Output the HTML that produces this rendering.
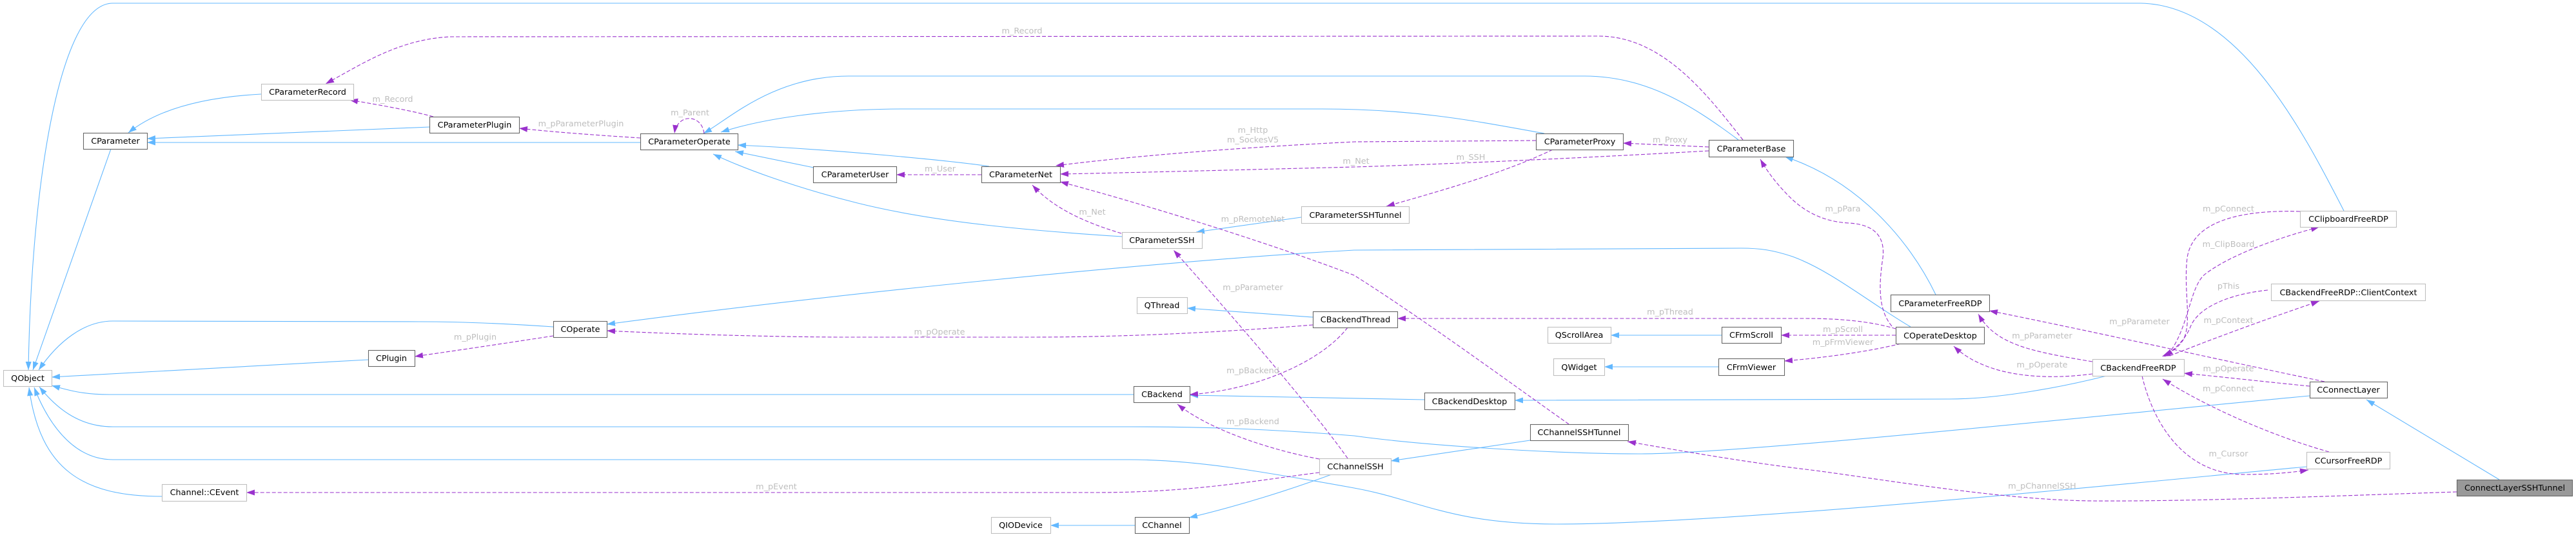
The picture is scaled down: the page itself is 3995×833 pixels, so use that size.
<!DOCTYPE html>
<html><head><meta charset="utf-8"><style>
html,body{margin:0;padding:0;background:#fff;}
svg{display:block;}
text{font-family:"DejaVu Sans","Liberation Sans",sans-serif;font-size:12.8px;}
.n{fill:#000;text-anchor:middle;}
.l{fill:#bebebe;text-anchor:middle;}
.b{fill:none;stroke:#63b8ff;stroke-width:1.1;}
.p{fill:none;stroke:#9a32cd;stroke-width:1.1;stroke-dasharray:6,3;}
.rl{fill:#fff;stroke:#bfbfbf;stroke-width:1.1;}
.rd{fill:#fff;stroke:#666;stroke-width:1.1;}
</style></head><body>
<svg width="3995" height="833" viewBox="0 0 3995 833" xmlns="http://www.w3.org/2000/svg">
<defs>
<marker id="ab" markerUnits="userSpaceOnUse" markerWidth="14" markerHeight="10" refX="13" refY="5" orient="auto"><path d="M0,0.5 L13,5 L0,9.5 z" fill="#63b8ff"/></marker>
<marker id="ap" markerUnits="userSpaceOnUse" markerWidth="14" markerHeight="10" refX="13" refY="5" orient="auto"><path d="M0,0.5 L13,5 L0,9.5 z" fill="#9a32cd"/></marker>
</defs>
<rect width="3995" height="833" fill="#fff"/>

<!-- inheritance edges -->
<g marker-end="url(#ab)">
<path class="b" d="M3635,327 C3570,200 3470,8 3320,5 L175,5 C90,5 48,300 44,574"/>
<path class="b" d="M172,231 L51,574"/>
<path class="b" d="M858,507 C800,503 720,499 650,499 L175,498 C130,498 90,530 60,574"/>
<path class="b" d="M571,558 L80,585"/>
<path class="b" d="M1758,612 L170,612 C130,612 108,606 80,598"/>
<path class="b" d="M3582,614 C3300,640 2700,704 2546,704 C2400,704 2200,690 2100,676 C1950,664 1850,662 1750,662 L175,662 C120,662 85,630 61,600"/>
<path class="b" d="M3577,724 C3400,740 2700,813 2413,813 C2250,813 2200,775 2100,757 C1950,730 1850,713 1750,713 L175,713 C110,713 72,650 53,601"/>
<path class="b" d="M251,770 C130,770 62,730 45,601"/>
<path class="b" d="M405,146 C330,150 250,165 199,206"/>
<path class="b" d="M666,197 L228,215"/>
<path class="b" d="M993,221 L228,221"/>
<path class="b" d="M2696,217 C2620,160 2550,118 2457,118 L1316,118 C1200,118 1130,185 1091,207"/>
<path class="b" d="M2395,207 C2300,190 2200,169 2050,169 L1400,169 C1280,169 1180,185 1118,205"/>
<path class="b" d="M1534,258 C1480,250 1300,232 1144,225"/>
<path class="b" d="M1262,260 L1140,235"/>
<path class="b" d="M1740,367 C1600,358 1450,345 1330,315 C1230,290 1150,260 1106,239"/>
<path class="b" d="M2018,337 L1855,360"/>
<path class="b" d="M3002,457 C2960,370 2880,280 2768,243"/>
<path class="b" d="M2963,507 C2900,470 2840,420 2780,398 C2750,388 2730,385 2700,385 L2100,388 C1800,405 1300,455 941,503"/>
<path class="b" d="M2036,492 L1841,478"/>
<path class="b" d="M2209,620 L1845,613"/>
<path class="b" d="M3267,583 C3200,600 3100,619 3023,619 L2349,621"/>
<path class="b" d="M2065,736 C2000,760 1920,785 1844,803"/>
<path class="b" d="M1760,815 L1629,815"/>
<path class="b" d="M2373,683 L2157,715"/>
<path class="b" d="M2670,520 L2498,520"/>
<path class="b" d="M2665,569 L2488,569"/>
<path class="b" d="M3876,744 L3670,620"/>
</g>

<!-- usage edges -->
<g marker-end="url(#ap)">
<path class="p" d="M2703,217 C2650,150 2580,56 2479,56 L700,57 C620,60 560,100 505,130"/>
<path class="p" d="M672,181 C640,172 590,163 542,155"/>
<path class="p" d="M993,214 C930,210 860,205 805,199"/>
<path class="p" d="M1092,207 C1088,176 1050,176 1046,207"/>
<path class="p" d="M1522,271 L1390,271"/>
<path class="p" d="M2382,218 L2100,220 C1900,230 1750,243 1637,257"/>
<path class="p" d="M2650,234 C2400,248 2200,256 2100,259 C1900,264 1750,268 1644,270"/>
<path class="p" d="M1739,362 C1700,350 1640,330 1601,287"/>
<path class="p" d="M2433,658 C2330,585 2200,490 2100,427 C1950,370 1750,310 1644,282"/>
<path class="p" d="M2650,228 L2517,222"/>
<path class="p" d="M2408,232 C2330,270 2220,300 2150,320"/>
<path class="p" d="M2090,711 C2040,640 1920,500 1820,388"/>
<path class="p" d="M2090,508 C2050,560 1950,605 1845,612"/>
<path class="p" d="M2046,712 C1980,700 1880,670 1826,627"/>
<path class="p" d="M2036,504 C1900,515 1750,523 1600,523 L1300,523 C1150,522 1000,516 941,513"/>
<path class="p" d="M858,521 C800,530 720,542 643,553"/>
<path class="p" d="M2940,510 C2900,498 2850,494 2800,494 L2167,494"/>
<path class="p" d="M2940,520 L2762,520"/>
<path class="p" d="M2948,533 C2900,545 2830,555 2767,560"/>
<path class="p" d="M2046,733 C1950,745 1850,764 1700,764 L382,764"/>
<path class="p" d="M2934,506 C2912,480 2914,440 2920,400 C2924,365 2905,348 2867,346 C2830,344 2800,330 2775,305 C2755,285 2740,265 2730,247"/>
<path class="p" d="M3245,580 C3170,590 3080,585 3030,537"/>
<path class="p" d="M3245,561 C3150,545 3095,535 3068,487"/>
<path class="p" d="M3605,592 C3450,560 3250,515 3085,482"/>
<path class="p" d="M3582,599 C3520,593 3450,585 3387,579"/>
<path class="p" d="M3612,701 C3520,675 3420,630 3354,588"/>
<path class="p" d="M3322,583 C3340,660 3390,736 3480,736 C3530,736 3560,732 3580,729"/>
<path class="p" d="M3567,328 C3470,325 3400,345 3392,400 C3386,450 3400,500 3386,527 C3378,540 3365,548 3353,553"/>
<path class="p" d="M3362,550 C3395,510 3395,445 3420,425 C3460,395 3530,370 3597,352"/>
<path class="p" d="M3517,450 C3460,456 3410,475 3397,507 C3390,525 3375,540 3357,553"/>
<path class="p" d="M3365,552 C3420,530 3500,500 3597,467"/>
<path class="p" d="M3810,763 C3600,770 3400,778 3246,777 C3100,776 2900,740 2800,728 C2700,716 2600,698 2524,685"/>
</g>

<!-- edge labels -->
<g>
<text class="l" x="1585" y="52">m_Record</text>
<text class="l" x="609" y="158">m_Record</text>
<text class="l" x="901" y="196">m_pParameterPlugin</text>
<text class="l" x="1070" y="179">m_Parent</text>
<text class="l" x="1458" y="266">m_User</text>
<text class="l" x="1943" y="206">m_Http</text>
<text class="l" x="1943" y="221">m_SockesV5</text>
<text class="l" x="2103" y="254">m_Net</text>
<text class="l" x="2281" y="248">m_SSH</text>
<text class="l" x="2590" y="221">m_Proxy</text>
<text class="l" x="1694" y="333">m_Net</text>
<text class="l" x="1943" y="344">m_pRemoteNet</text>
<text class="l" x="1943" y="450">m_pParameter</text>
<text class="l" x="1457" y="519">m_pOperate</text>
<text class="l" x="1943" y="579">m_pBackend</text>
<text class="l" x="1943" y="658">m_pBackend</text>
<text class="l" x="1204" y="759">m_pEvent</text>
<text class="l" x="737" y="527">m_pPlugin</text>
<text class="l" x="2590" y="488">m_pThread</text>
<text class="l" x="2858" y="328">m_pPara</text>
<text class="l" x="2858" y="515">m_pScroll</text>
<text class="l" x="2858" y="535">m_pFrmViewer</text>
<text class="l" x="3318" y="503">m_pParameter</text>
<text class="l" x="3167" y="525">m_pParameter</text>
<text class="l" x="3167" y="570">m_pOperate</text>
<text class="l" x="3456" y="328">m_pConnect</text>
<text class="l" x="3456" y="383">m_ClipBoard</text>
<text class="l" x="3456" y="448">pThis</text>
<text class="l" x="3456" y="501">m_pContext</text>
<text class="l" x="3456" y="576">m_pOperate</text>
<text class="l" x="3456" y="607">m_pConnect</text>
<text class="l" x="3456" y="708">m_Cursor</text>
<text class="l" x="3167" y="758">m_pChannelSSH</text>
</g>

<!-- nodes -->
<g>
<rect class="rl" x="5.5" y="574.5" width="75" height="25"/><text class="n" x="43" y="591">QObject</text>
<rect class="rd" x="129.5" y="206.5" width="99" height="25"/><text class="n" x="179" y="223">CParameter</text>
<rect class="rl" x="405.5" y="130.5" width="143" height="25"/><text class="n" x="477" y="147">CParameterRecord</text>
<rect class="rd" x="666.5" y="181.5" width="139" height="25"/><text class="n" x="736" y="198">CParameterPlugin</text>
<rect class="rd" x="571.5" y="543.5" width="72" height="25"/><text class="n" x="607" y="560">CPlugin</text>
<rect class="rl" x="251.5" y="751.5" width="131" height="26"/><text class="n" x="317" y="768">Channel::CEvent</text>
<rect class="rd" x="993.5" y="207.5" width="151" height="25"/><text class="n" x="1069" y="224">CParameterOperate</text>
<rect class="rd" x="1261.5" y="258.5" width="129" height="25"/><text class="n" x="1326" y="275">CParameterUser</text>
<rect class="rd" x="858.5" y="498.5" width="83" height="25"/><text class="n" x="900" y="515">COperate</text>
<rect class="rd" x="1522.5" y="258.5" width="122" height="25"/><text class="n" x="1583" y="275">CParameterNet</text>
<rect class="rl" x="1740.5" y="360.5" width="124" height="25"/><text class="n" x="1802" y="377">CParameterSSH</text>
<rect class="rl" x="2018.5" y="320.5" width="167" height="26"/><text class="n" x="2102" y="338">CParameterSSHTunnel</text>
<rect class="rl" x="1763.5" y="461.5" width="78" height="25"/><text class="n" x="1802" y="478">QThread</text>
<rect class="rd" x="2036.5" y="483.5" width="131" height="25"/><text class="n" x="2102" y="500">CBackendThread</text>
<rect class="rd" x="1758.5" y="599.5" width="87" height="25"/><text class="n" x="1802" y="616">CBackend</text>
<rect class="rl" x="2046.5" y="711.5" width="111" height="25"/><text class="n" x="2102" y="728">CChannelSSH</text>
<rect class="rl" x="1537.5" y="802.5" width="92" height="25"/><text class="n" x="1583" y="819">QIODevice</text>
<rect class="rd" x="1760.5" y="802.5" width="84" height="25"/><text class="n" x="1802" y="819">CChannel</text>
<rect class="rd" x="2382.5" y="207.5" width="135" height="25"/><text class="n" x="2450" y="224">CParameterProxy</text>
<rect class="rd" x="2650.5" y="217.5" width="131" height="26"/><text class="n" x="2716" y="235">CParameterBase</text>
<rect class="rl" x="2400.5" y="507.5" width="98" height="25"/><text class="n" x="2449" y="524">QScrollArea</text>
<rect class="rd" x="2670.5" y="507.5" width="92" height="25"/><text class="n" x="2716" y="524">CFrmScroll</text>
<rect class="rl" x="2409.5" y="556.5" width="79" height="26"/><text class="n" x="2449" y="574">QWidget</text>
<rect class="rd" x="2665.5" y="556.5" width="102" height="26"/><text class="n" x="2716" y="574">CFrmViewer</text>
<rect class="rd" x="2209.5" y="609.5" width="140" height="26"/><text class="n" x="2279" y="627">CBackendDesktop</text>
<rect class="rd" x="2373.5" y="658.5" width="152" height="25"/><text class="n" x="2449" y="675">CChannelSSHTunnel</text>
<rect class="rd" x="2932.5" y="457.5" width="153" height="26"/><text class="n" x="3009" y="475">CParameterFreeRDP</text>
<rect class="rd" x="2940.5" y="507.5" width="137" height="26"/><text class="n" x="3009" y="525">COperateDesktop</text>
<rect class="rl" x="3245.5" y="557.5" width="142" height="26"/><text class="n" x="3316" y="575">CBackendFreeRDP</text>
<rect class="rl" x="3567.5" y="327.5" width="149" height="25"/><text class="n" x="3642" y="344">CClipboardFreeRDP</text>
<rect class="rl" x="3522.5" y="440.5" width="239" height="26"/><text class="n" x="3642" y="458">CBackendFreeRDP::ClientContext</text>
<rect class="rd" x="3582.5" y="592.5" width="120" height="25"/><text class="n" x="3642" y="609">CConnectLayer</text>
<rect class="rl" x="3577.5" y="701.5" width="129" height="26"/><text class="n" x="3642" y="719">CCursorFreeRDP</text>
<rect x="3810.5" y="744.5" width="179" height="25" fill="#999" stroke="#666" stroke-width="1.1"/><text class="n" x="3900" y="761">ConnectLayerSSHTunnel</text>
</g>
</svg>
</body></html>
